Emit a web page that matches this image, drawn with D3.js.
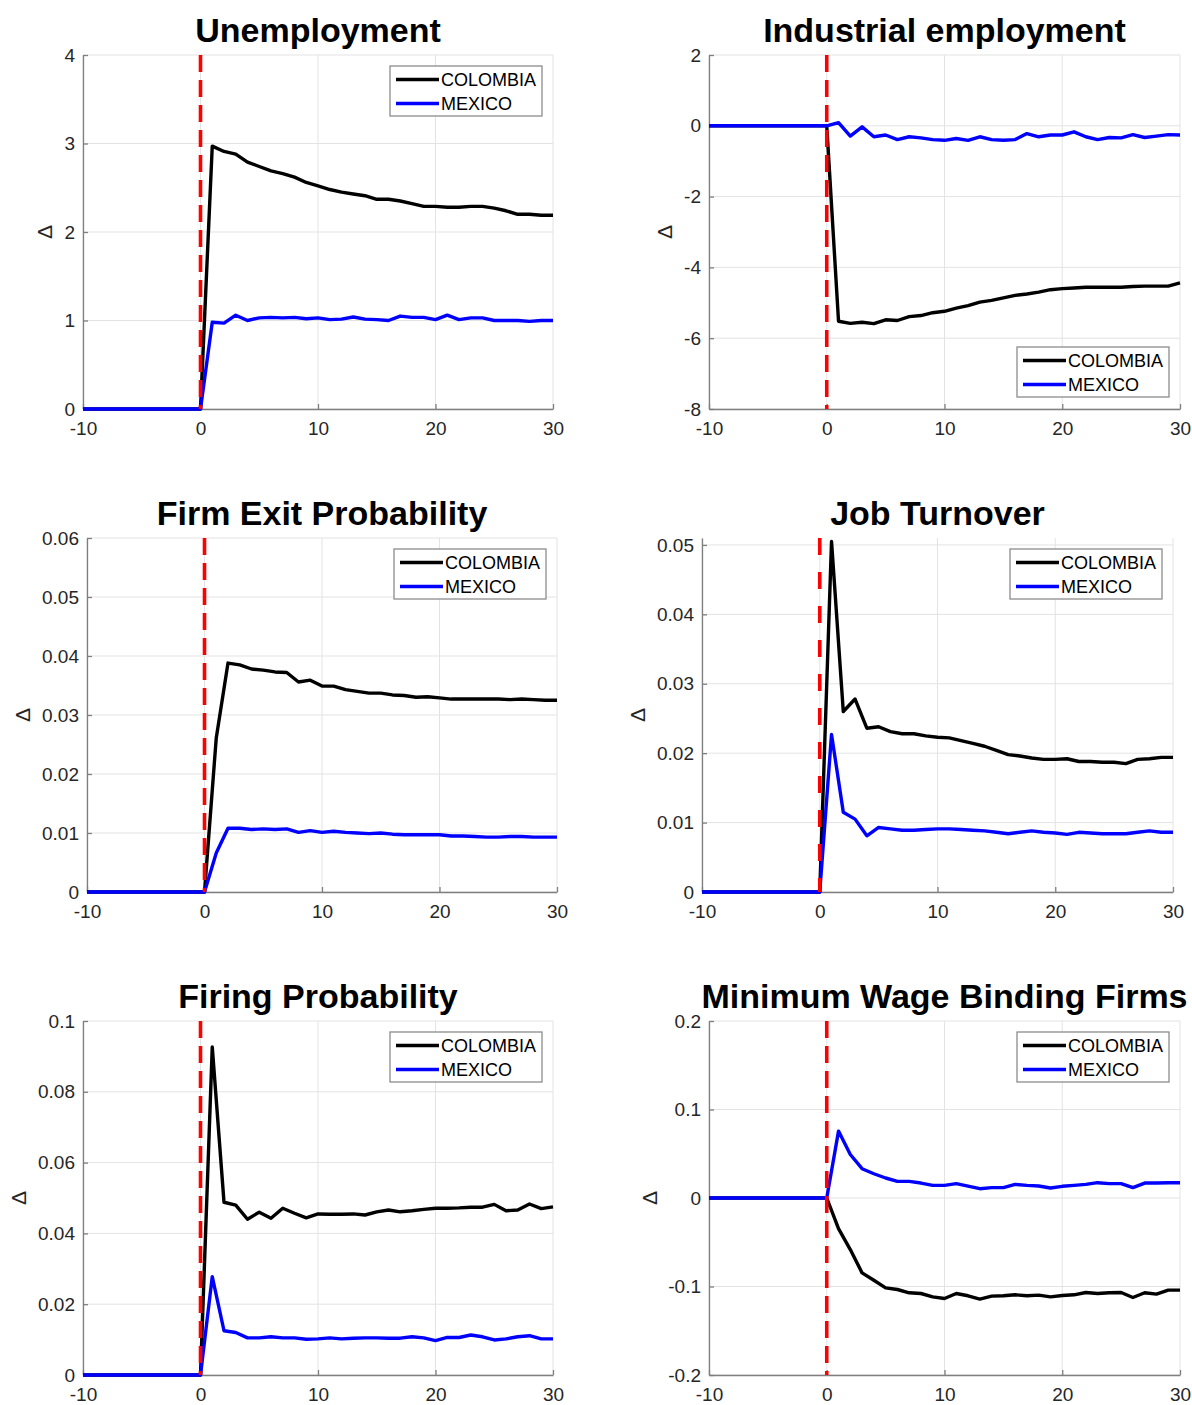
<!DOCTYPE html>
<html>
<head>
<meta charset="utf-8">
<script src="https://cdn.jsdelivr.net/npm/d3@7"></script>
<style>
  body { margin: 0; background: #fff; }
  svg { display: block; }
  text { font-family: "Liberation Sans", Arial, Helvetica, sans-serif; }
</style>
</head>
<body>
<div id="chart-container"></div>
<script>
// periods (x axis)
const periods = [-10, -9, -8, -7, -6, -5, -4, -3, -2, -1, 0, 1, 2, 3, 4, 5, 6, 7, 8, 9, 10,
  11, 12, 13, 14, 15, 16, 17, 18, 19, 20, 21, 22, 23, 24, 25, 26, 27, 28, 29, 30];
const xTicks = [-10, 0, 10, 20, 30];
const countries = ["COLOMBIA", "MEXICO"];

// values, t = -10 .. 30
const unempColombia = [0, 0, 0, 0, 0, 0, 0, 0, 0, 0, 0,
  2.97, 2.91, 2.88, 2.79, 2.74, 2.69, 2.66, 2.62, 2.56, 2.52,
  2.48, 2.45, 2.43, 2.41, 2.37, 2.37, 2.35, 2.32, 2.29, 2.29,
  2.28, 2.28, 2.29, 2.29, 2.27, 2.24, 2.20, 2.20, 2.19, 2.19];
const unempMexico = [0, 0, 0, 0, 0, 0, 0, 0, 0, 0, 0,
  0.98, 0.97, 1.06, 1.00, 1.03, 1.035, 1.03, 1.035, 1.02, 1.03,
  1.01, 1.015, 1.04, 1.015, 1.01, 1.00, 1.05, 1.035, 1.035, 1.01,
  1.06, 1.01, 1.03, 1.03, 1.00, 1.00, 1.00, 0.99, 1.00, 1.00];
const unempTicks = [0, 1, 2, 3, 4];

const indColombia = [0, 0, 0, 0, 0, 0, 0, 0, 0, 0, 0,
  -5.52, -5.58, -5.55, -5.59, -5.48, -5.50, -5.39, -5.36, -5.28, -5.24,
  -5.15, -5.08, -4.98, -4.93, -4.86, -4.79, -4.75, -4.70, -4.63, -4.60,
  -4.58, -4.56, -4.56, -4.56, -4.56, -4.54, -4.53, -4.53, -4.53, -4.44];
const indMexico = [0, 0, 0, 0, 0, 0, 0, 0, 0, 0, 0,
  0.09, -0.29, -0.03, -0.31, -0.26, -0.39, -0.31, -0.34, -0.39, -0.41,
  -0.36, -0.41, -0.31, -0.39, -0.41, -0.39, -0.22, -0.31, -0.26, -0.26,
  -0.17, -0.31, -0.39, -0.33, -0.34, -0.25, -0.33, -0.29, -0.25, -0.26];
const indTicks = [-8, -6, -4, -2, 0, 2];

const exitColombia = [0, 0, 0, 0, 0, 0, 0, 0, 0, 0, 0,
  0.0261, 0.0388, 0.0385, 0.0378, 0.0376, 0.0373, 0.0372, 0.0356, 0.0359, 0.0349,
  0.0349, 0.0343, 0.0340, 0.0337, 0.0337, 0.0334, 0.0333, 0.0330, 0.0331, 0.0329,
  0.0327, 0.0327, 0.0327, 0.0327, 0.0327, 0.0326, 0.0327, 0.0326, 0.0325, 0.0325];
const exitMexico = [0, 0, 0, 0, 0, 0, 0, 0, 0, 0, 0,
  0.0066, 0.0108, 0.0108, 0.0106, 0.0107, 0.0106, 0.0107, 0.0101, 0.0104, 0.0101,
  0.0103, 0.0101, 0.0100, 0.0099, 0.0100, 0.0098, 0.0097, 0.0097, 0.0097, 0.0097,
  0.0095, 0.0095, 0.0094, 0.0093, 0.0093, 0.0094, 0.0094, 0.0093, 0.0093, 0.0093];
const exitTicks = [0, 0.01, 0.02, 0.03, 0.04, 0.05, 0.06];

const turnColombia = [0, 0, 0, 0, 0, 0, 0, 0, 0, 0, 0,
  0.0505, 0.0260, 0.0278, 0.0236, 0.0238, 0.0231, 0.0228, 0.0228, 0.0225, 0.0223,
  0.0222, 0.0218, 0.0214, 0.0210, 0.0204, 0.0198, 0.0196, 0.0193, 0.0191, 0.0191,
  0.0192, 0.0188, 0.0188, 0.0187, 0.0187, 0.0185, 0.0191, 0.0192, 0.0194, 0.0194];
const turnMexico = [0, 0, 0, 0, 0, 0, 0, 0, 0, 0, 0,
  0.0227, 0.0115, 0.0105, 0.0081, 0.0093, 0.0091, 0.0089, 0.0089, 0.0090, 0.0091,
  0.0091, 0.0090, 0.0089, 0.0088, 0.0086, 0.0084, 0.0086, 0.0088, 0.0086, 0.0085,
  0.0083, 0.0086, 0.0085, 0.0084, 0.0084, 0.0084, 0.0086, 0.0088, 0.0086, 0.0086];
const turnTicks = [0, 0.01, 0.02, 0.03, 0.04, 0.05];

const fireColombia = [0, 0, 0, 0, 0, 0, 0, 0, 0, 0, 0,
  0.0927, 0.0488, 0.0480, 0.0440, 0.0460, 0.0443, 0.0471, 0.0457, 0.0444, 0.0455,
  0.0454, 0.0454, 0.0455, 0.0452, 0.0461, 0.0466, 0.0461, 0.0464, 0.0468, 0.0471,
  0.0471, 0.0472, 0.0474, 0.0474, 0.0482, 0.0464, 0.0466, 0.0483, 0.0470, 0.0475];
const fireMexico = [0, 0, 0, 0, 0, 0, 0, 0, 0, 0, 0,
  0.0278, 0.0125, 0.0120, 0.0105, 0.0105, 0.0108, 0.0105, 0.0105, 0.0101, 0.0102,
  0.0105, 0.0102, 0.0104, 0.0105, 0.0105, 0.0104, 0.0104, 0.0108, 0.0105, 0.0097,
  0.0106, 0.0106, 0.0113, 0.0108, 0.0099, 0.0102, 0.0108, 0.0111, 0.0102, 0.0102];
const fireTicks = [0, 0.02, 0.04, 0.06, 0.08, 0.1];

const minwColombia = [0, 0, 0, 0, 0, 0, 0, 0, 0, 0, 0,
  -0.0346, -0.0583, -0.0846, -0.0929, -0.1015, -0.1034, -0.1071, -0.1079, -0.1117, -0.1135,
  -0.1079, -0.1105, -0.1143, -0.1109, -0.1105, -0.1094, -0.1105, -0.1098, -0.1117, -0.1102,
  -0.1094, -0.1068, -0.1079, -0.1071, -0.1068, -0.1124, -0.1071, -0.1086, -0.1041, -0.1041];
const minwMexico = [0, 0, 0, 0, 0, 0, 0, 0, 0, 0, 0,
  0.0756, 0.0492, 0.0331, 0.0274, 0.0226, 0.0188, 0.0188, 0.0169, 0.0143, 0.0143,
  0.0162, 0.0135, 0.0105, 0.0117, 0.0117, 0.0154, 0.0143, 0.0135, 0.0113, 0.0132,
  0.0143, 0.0154, 0.0173, 0.0162, 0.0162, 0.0117, 0.0169, 0.0169, 0.0173, 0.0173];
const minwTicks = [-0.2, -0.1, 0, 0.1, 0.2];

// panel layout
const panels = [
  { title: "Unemployment", col: unempColombia, mex: unempMexico, ticks: unempTicks,
    yDomain: [0, 4], box: [83, 553, 55, 409], legend: "top", dash: "17,8" },
  { title: "Industrial employment", col: indColombia, mex: indMexico, ticks: indTicks,
    yDomain: [-8, 2], box: [709, 1180, 55, 409], legend: "bottom", dash: "17,8" },
  { title: "Firm Exit Probability", col: exitColombia, mex: exitMexico, ticks: exitTicks,
    yDomain: [0, 0.06], box: [87, 557, 538, 892], legend: "top", dash: "17,8" },
  { title: "Job Turnover", col: turnColombia, mex: turnMexico, ticks: turnTicks,
    yDomain: [0, 0.051], box: [702, 1173, 538, 892], legend: "top", dash: "17,17" },
  { title: "Firing Probability", col: fireColombia, mex: fireMexico, ticks: fireTicks,
    yDomain: [0, 0.1], box: [83, 553, 1021, 1375], legend: "top", dash: "17,8" },
  { title: "Minimum Wage Binding Firms", col: minwColombia, mex: minwMexico, ticks: minwTicks,
    yDomain: [-0.2, 0.2], box: [709, 1180, 1021, 1375], legend: "top", dash: "17,8" }
];

const svg = d3.select("#chart-container")
  .append("svg")
  .attr("width", 1192)
  .attr("height", 1405);

const fmt = d => String(+d.toFixed(4));
const axisColor = "#7f7f7f";

panels.forEach(p => {
  const [x0, x1, y0, y1] = p.box;
  const x = d3.scaleLinear().domain([-10, 30]).range([x0, x1]);
  const y = d3.scaleLinear().domain(p.yDomain).range([y1, y0]);
  const g = svg.append("g");

  // grid
  g.append("g").selectAll("line").data(xTicks).join("line")
    .attr("x1", d => x(d)).attr("x2", d => x(d))
    .attr("y1", y0).attr("y2", y1)
    .attr("stroke", "#e3e3e3").attr("stroke-width", 1);
  g.append("g").selectAll("line").data(p.ticks).join("line")
    .attr("x1", x0).attr("x2", x1)
    .attr("y1", d => y(d)).attr("y2", d => y(d))
    .attr("stroke", "#e3e3e3").attr("stroke-width", 1);

  // axes
  const yAxis = g.append("g")
    .attr("transform", `translate(${x0},0)`)
    .call(d3.axisLeft(y).tickValues(p.ticks).tickFormat(fmt)
      .tickSizeInner(-5).tickSizeOuter(0).tickPadding(8));
  const xAxis = g.append("g")
    .attr("transform", `translate(0,${y1})`)
    .call(d3.axisBottom(x).tickValues(xTicks).tickFormat(fmt)
      .tickSizeInner(-5).tickSizeOuter(0).tickPadding(13));
  [yAxis, xAxis].forEach(a => {
    a.select(".domain").attr("stroke", axisColor).attr("stroke-width", 1.3);
    a.selectAll(".tick line").attr("stroke", axisColor).attr("stroke-width", 1.3);
    a.selectAll(".tick text").attr("fill", "#262626").style("font-size", "19px");
  });

  // y label
  let maxW = 0;
  yAxis.selectAll(".tick text").each(function () {
    maxW = Math.max(maxW, this.getBBox().width);
  });
  const lx = x0 - 8 - maxW - 19;
  g.append("text")
    .attr("transform", `translate(${lx},${(y0 + y1) / 2}) rotate(-90)`)
    .attr("text-anchor", "middle")
    .attr("dy", "0.35em")
    .style("font-size", "21px")
    .attr("fill", "#262626")
    .text("\u0394");

  // title
  g.append("text")
    .attr("x", (x0 + x1) / 2)
    .attr("y", y0 - 13)
    .attr("text-anchor", "middle")
    .style("font-size", "34px")
    .style("font-weight", "bold")
    .attr("fill", "#000")
    .text(p.title);

  // series
  const line = d3.line().x((d, i) => x(periods[i])).y(d => y(d));
  g.append("path").datum(p.col)
    .attr("d", line).attr("fill", "none")
    .attr("stroke", "#000").attr("stroke-width", 3.4).attr("stroke-linejoin", "round");
  g.append("path").datum(p.mex)
    .attr("d", line).attr("fill", "none")
    .attr("stroke", "#0000ff").attr("stroke-width", 3.4).attr("stroke-linejoin", "round");

  // shock line at t = 0
  g.append("line")
    .attr("x1", x(0)).attr("x2", x(0))
    .attr("y1", y0).attr("y2", y1)
    .attr("stroke", "#ff0000").attr("stroke-width", 3.6)
    .attr("stroke-dasharray", p.dash);

  // legend
  const lw = 152, lh = 50;
  const legX = x1 - 11 - lw;
  const legY = p.legend === "top" ? y0 + 11 : y1 - 12 - lh;
  const leg = g.append("g").attr("transform", `translate(${legX},${legY})`);
  leg.append("rect")
    .attr("width", lw).attr("height", lh)
    .attr("fill", "#fff").attr("stroke", "#8c8c8c").attr("stroke-width", 1.3);
  const colors = ["#000", "#0000ff"];
  countries.forEach((c, i) => {
    const cy = 13.5 + i * 24;
    leg.append("line")
      .attr("x1", 6).attr("x2", 49).attr("y1", cy).attr("y2", cy)
      .attr("stroke", colors[i]).attr("stroke-width", 3.4);
    leg.append("text")
      .attr("x", 51).attr("y", cy).attr("dy", "0.36em")
      .style("font-size", "18px")
      .attr("fill", "#000")
      .text(c);
  });
});
</script>
</body>
</html>
